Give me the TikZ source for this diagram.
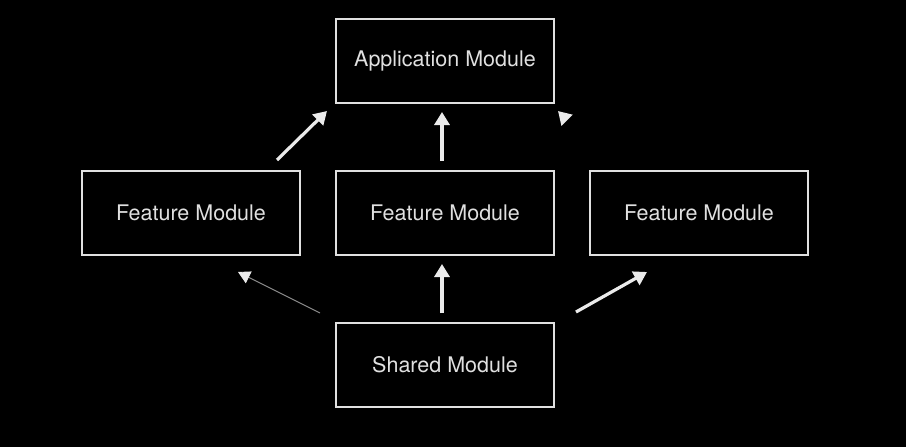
\documentclass[tikz,border=0pt]{standalone}
\usepackage{fontspec}
\setmainfont{TeX Gyre Heros}
\usetikzlibrary{arrows.meta}
\tikzset{>={Triangle[width=15pt,length=13pt]}}
\tikzset{module/.style={draw=black!12, line width=2pt, text=black!12, minimum width=218pt, minimum height=84pt, font=\fontsize{21.5}{24}\selectfont}}
\tikzset{link/.style={draw=black!8, line width=3.2pt, ->}}

\begin{document}
\begin{tikzpicture}[x=1pt, y=-1pt]
    \fill [black] (0,0) rectangle (906,447);
    \node [module] (app) at (445,61) {Application Module};
    \node [module] (featL) at (191,213) {Feature Module};
    \node [module] (featC) at (445,213) {Feature Module};
    \node [module] (featR) at (699,213) {Feature Module};
    \node [module] (shared) at (445,365) {Shared Module};
    % arrow ends
    \coordinate (lUp) at (277,160);
    \coordinate (lTip) at (327,111);
    \coordinate (cUp) at (442,161);
    \coordinate (cTip) at (442,112);
    \coordinate (rUp) at (606,160);
    \coordinate (rTip) at (558,111);
    \coordinate (sL) at (320,313);
    \coordinate (sLTip) at (238,272);
    \coordinate (sC) at (442,313);
    \coordinate (sCTip) at (442,264);
    \coordinate (sR) at (576,312);
    \coordinate (sRTip) at (647,272);
    \draw [link] (lUp) -- (lTip);
    \draw [link] (cUp) -- (cTip);
    \draw [black, line width=3pt, -{Triangle[width=15pt,length=13pt,color=black!8]}] (rUp) -- (rTip);
    \draw [link, line width=0.9pt, draw=black!45, -{Triangle[width=13pt,length=12pt,color=black!8]}] (sL) -- (sLTip);
    \draw [link] (sC) -- (sCTip);
    \draw [link] (sR) -- (sRTip);
\end{tikzpicture}
\end{document}
